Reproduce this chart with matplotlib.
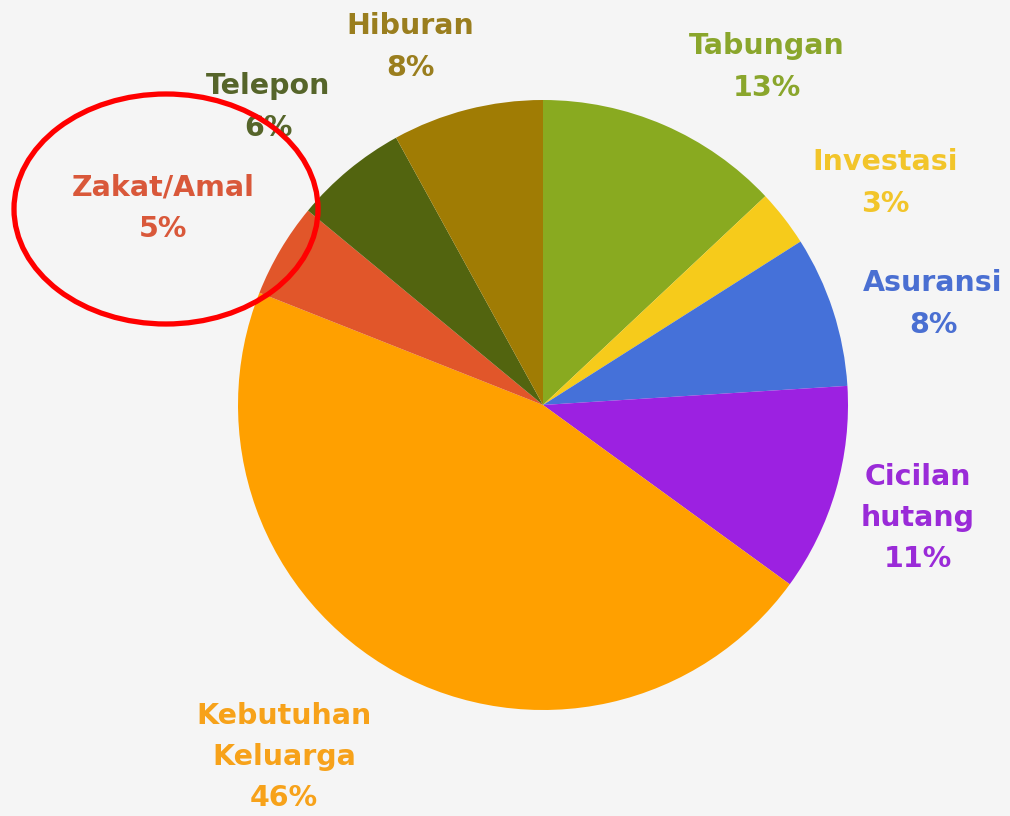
import matplotlib.pyplot as plt
from matplotlib.patches import Ellipse

labels = ['Tabungan', 'Investasi', 'Asuransi', 'Cicilan\nhutang', 'Kebutuhan\nKeluarga',
          'Zakat/Amal', 'Telepon', 'Hiburan']
values = [13, 3, 8, 11, 46, 5, 6, 8]
colors = ['#89aa20', '#f6cb1b', '#4571d9', '#9c21e1', '#ffa000', '#e1562a', '#52640f', '#a07c04']
text_colors = ['#8aa62c', '#f2c52a', '#4a6fd2', '#9a2bd8', '#f7a21a', '#d9583a', '#56652a', '#9a7e1e']
# label anchor points in pixel coords (from top-left)
label_pos = [(767, 67), (885, 183), (933, 304), (918, 518), (284, 757),
             (163, 208), (268, 107), (410, 47)]


def main():
    W, H = 1010, 816
    fig = plt.figure(figsize=(W / 100, H / 100), dpi=100)
    fig.patch.set_facecolor('#f5f5f5')
    ax = fig.add_axes([0, 0, 1, 1])
    ax.set_facecolor('#f5f5f5')

    ax.pie(values, colors=colors, startangle=90, counterclock=False,
           center=(543, H - 405), radius=305, frame=True,
           wedgeprops=dict(linewidth=0))
    ax.set_xlim(0, W)
    ax.set_ylim(0, H)
    ax.set_aspect('equal')
    ax.axis('off')

    for lab, v, c, (x, y) in zip(labels, values, text_colors, label_pos):
        ax.text(x, H - y, '%s\n%d%%' % (lab, v), color=c, fontsize=20.5,
                ha='center', va='center', linespacing=1.6,
                family='DejaVu Sans', fontweight='bold')

    ax.add_patch(Ellipse((166, H - 209), 304, 230, fill=False,
                         edgecolor='#ff0000', linewidth=3.8, zorder=5))

    fig.savefig('out.png', dpi=100, facecolor=fig.get_facecolor())


if __name__ == '__main__':
    main()
